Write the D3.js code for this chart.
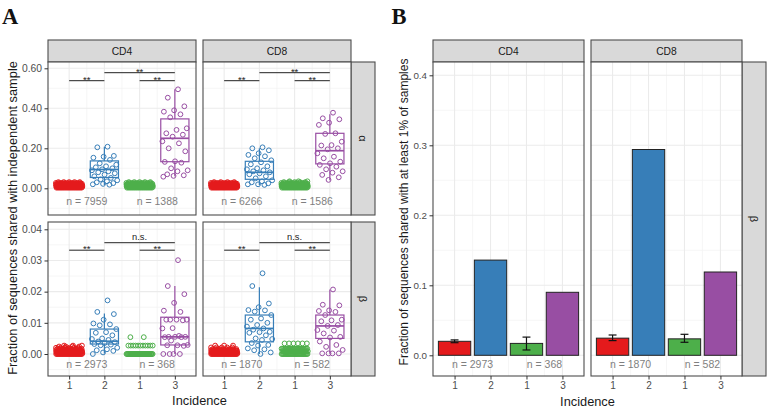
<!DOCTYPE html>
<html><head><meta charset="utf-8">
<script src="https://cdn.jsdelivr.net/npm/d3@7/dist/d3.min.js"></script>
<style>body{margin:0;background:#fff}svg{display:block}</style>
</head><body><svg id="c" width="773" height="415"></svg>
<script>
// ---------------- DATA ----------------
const cellTypes = ["CD4", "CD8"];
const chains = ["α", "β"];
const incidenceLabels = ["1", "2", "1", "3"];
const groupColors = ["#E41A1C", "#377EB8", "#4DAF4A", "#984EA3"];

const alphaTicks = [0, 0.2, 0.4, 0.6];
const betaTicks = [0, 0.01, 0.02, 0.03, 0.04];
const barTicks = [0, 0.1, 0.2, 0.3, 0.4];

// Panel A, alpha chain, CD4  (dense groups given as value levels with counts)
const alphaCD4RedLevels = [0.003, 0.007, 0.011, 0.015, 0.019, 0.023, 0.027, 0.031];
const alphaCD4RedCounts = [15, 20, 24, 24, 20, 15, 9, 5];
const alphaCD4Blue = [0.208, 0.205, 0.162, 0.158, 0.153, 0.142, 0.125, 0.118, 0.110, 0.105, 0.100, 0.095, 0.090, 0.085, 0.080, 0.075, 0.068, 0.060, 0.052, 0.045, 0.040, 0.035, 0.030, 0.026, 0.022, 0.020, 0.018];
const alphaCD4GreenLevels = [0.003, 0.007, 0.011, 0.015, 0.019, 0.023, 0.027, 0.031];
const alphaCD4GreenCounts = [14, 19, 23, 23, 19, 14, 9, 5];
const alphaCD4Purple = [0.495, 0.453, 0.410, 0.390, 0.383, 0.370, 0.355, 0.300, 0.292, 0.275, 0.268, 0.258, 0.235, 0.225, 0.200, 0.185, 0.135, 0.132, 0.128, 0.100, 0.090, 0.085, 0.070, 0.065, 0.062, 0.058];
const alphaCD4BoxBlue = [0.017, 0.054, 0.094, 0.137, 0.208];   // lo, q1, median, q3, hi
const alphaCD4BoxPurple = [0.060, 0.133, 0.250, 0.347, 0.495];
const alphaCD4N = ["n = 7959", "n = 1388"];

// Panel A, alpha chain, CD8
const alphaCD8RedLevels = [0.003, 0.007, 0.011, 0.015, 0.019, 0.023, 0.027, 0.031];
const alphaCD8RedCounts = [15, 20, 24, 24, 20, 15, 9, 4];
const alphaCD8Blue = [0.205, 0.200, 0.190, 0.175, 0.167, 0.160, 0.150, 0.140, 0.130, 0.120, 0.110, 0.100, 0.095, 0.090, 0.085, 0.080, 0.075, 0.070, 0.060, 0.050, 0.040, 0.035, 0.030, 0.025, 0.020, 0.020, 0.017];
const alphaCD8GreenLevels = [0.003, 0.007, 0.011, 0.015, 0.019, 0.023, 0.027, 0.031, 0.035];
const alphaCD8GreenCounts = [14, 19, 23, 23, 19, 14, 9, 5, 3];
const alphaCD8Purple = [0.378, 0.350, 0.345, 0.328, 0.317, 0.275, 0.272, 0.233, 0.216, 0.214, 0.200, 0.195, 0.175, 0.158, 0.150, 0.133, 0.125, 0.117, 0.108, 0.095, 0.085, 0.078, 0.067, 0.055, 0.042];
const alphaCD8BoxBlue = [0.016, 0.045, 0.080, 0.135, 0.200];
const alphaCD8BoxPurple = [0.040, 0.122, 0.188, 0.275, 0.370];
const alphaCD8N = ["n = 6266", "n = 1586"];

// Panel A, beta chain, CD4
const betaCD4RedLevels = [0, 0.0003, 0.0007, 0.0010, 0.0013, 0.0017, 0.0020, 0.0024, 0.0027];
const betaCD4RedCounts = [26, 22, 20, 17, 14, 10, 6, 4, 3];
const betaCD4Blue = [0.0172, 0.0135, 0.0128, 0.0110, 0.0098, 0.0095, 0.0092, 0.0080, 0.0070, 0.0068, 0.0060, 0.0050, 0.0048, 0.0045, 0.0040, 0.0038, 0.0035, 0.0032, 0.0030, 0.0028, 0.0020, 0.0015, 0.0012, 0.0010, 0.0005, 0.0000];
const betaCD4GreenLevels = [0, 0.0027, 0.0054];
const betaCD4GreenCounts = [40, 11, 2];
const betaCD4Purple = [0.0301, 0.0218, 0.0192, 0.0164, 0.0139, 0.0135, 0.0110, 0.0110, 0.0110, 0.0110, 0.0108, 0.0083, 0.0082, 0.0058, 0.0055, 0.0055, 0.0055, 0.0054, 0.0054, 0.0043, 0.0029, 0.0028, 0.0028, 0.0026, 0.0000, 0.0000, 0.0000, 0.0000];
const betaCD4BoxBlue = [0.0002, 0.0032, 0.0041, 0.0080, 0.0130];
const betaCD4BoxPurple = [0.0000, 0.0029, 0.0055, 0.0118, 0.0218];
const betaCD4N = ["n = 2973", "n = 368"];

// Panel A, beta chain, CD8
const betaCD8RedLevels = [0, 0.0003, 0.0006, 0.0010, 0.0013, 0.0016, 0.0021, 0.0027];
const betaCD8RedCounts = [26, 22, 20, 16, 12, 8, 5, 3];
const betaCD8Blue = [0.0259, 0.0218, 0.0162, 0.0150, 0.0141, 0.0140, 0.0136, 0.0125, 0.0114, 0.0110, 0.0100, 0.0093, 0.0088, 0.0082, 0.0078, 0.0071, 0.0070, 0.0068, 0.0060, 0.0050, 0.0048, 0.0045, 0.0035, 0.0029, 0.0027, 0.0018, 0.0015, 0.0012, 0.0005, 0.0000];
const betaCD8GreenLevels = [0, 0.0009, 0.0017, 0.0034];
const betaCD8GreenCounts = [30, 20, 24, 6];
const betaCD8Purple = [0.0207, 0.0158, 0.0156, 0.0140, 0.0138, 0.0135, 0.0125, 0.0110, 0.0108, 0.0105, 0.0093, 0.0090, 0.0077, 0.0075, 0.0066, 0.0055, 0.0053, 0.0040, 0.0029, 0.0023, 0.0013, 0.0002, 0.0002, 0.0002, 0.0002];
const betaCD8BoxBlue = [0.0000, 0.0039, 0.0082, 0.0125, 0.0214];
const betaCD8BoxPurple = [0.0002, 0.0050, 0.0090, 0.0125, 0.0207];
const betaCD8N = ["n = 1870", "n = 582"];

// significance brackets: [from category, to category, height, label]
const alphaBrackets = [[1, 2, 0.538, "**"], [2, 4, 0.578, "**"], [3, 4, 0.538, "**"]];
const betaBrackets = [[1, 2, 0.0333, "**"], [2, 4, 0.0357, "n.s."], [3, 4, 0.0333, "**"]];

// Panel B bars (beta chain)
const barCD4 = [0.020, 0.136, 0.017, 0.090];
const barCD8 = [0.0245, 0.294, 0.0235, 0.119];
const errLoCD4 = [0.018, null, 0.0076, null];
const errHiCD4 = [0.022, null, 0.026, null];
const errLoCD8 = [0.021, null, 0.0186, null];
const errHiCD8 = [0.029, null, 0.030, null];
const barN_CD4 = ["n = 2973", "n = 368"];
const barN_CD8 = ["n = 1870", "n = 582"];

// ---------------- DRAWING ----------------
const FONT = '"Liberation Sans", Arial, Helvetica, sans-serif';
const svg = d3.select("#c");
const BORDER = "#4d4d4d";
const X_DOMAIN = [0.4, 4.6];

function jit(i) { return (((i + 1) * 0.6180339887) % 1 - 0.5) * 0.76; }

function panelBase(xs, ys, x0, x1, y0, y1, majors) {
  const g = svg.append("g");
  g.append("rect").attr("x", x0).attr("y", y0).attr("width", x1 - x0).attr("height", y1 - y0).attr("fill", "#fff");
  const step = majors[1] - majors[0];
  const minors = [];
  for (let i = -1; i < majors.length; i++) {
    const v = majors[0] + step * (i + 0.5);
    const p = ys(v);
    if (p > y0 && p < y1) minors.push(v);
  }
  g.selectAll("line.hmin").data(minors).join("line")
    .attr("x1", x0).attr("x2", x1).attr("y1", d => ys(d)).attr("y2", d => ys(d))
    .attr("stroke", "#F2F2F2").attr("stroke-width", 0.7);
  g.selectAll("line.vmin").data([1.5, 2.5, 3.5]).join("line")
    .attr("y1", y0).attr("y2", y1).attr("x1", d => xs(d)).attr("x2", d => xs(d))
    .attr("stroke", "#F2F2F2").attr("stroke-width", 0.7);
  g.selectAll("line.hmaj").data(majors).join("line")
    .attr("x1", x0).attr("x2", x1).attr("y1", d => ys(d)).attr("y2", d => ys(d))
    .attr("stroke", "#EBEBEB").attr("stroke-width", 1.1);
  g.selectAll("line.vmaj").data([1, 2, 3, 4]).join("line")
    .attr("y1", y0).attr("y2", y1).attr("x1", d => xs(d)).attr("x2", d => xs(d))
    .attr("stroke", "#EBEBEB").attr("stroke-width", 1.1);
  return g;
}
function panelBorder(x0, x1, y0, y1) {
  svg.append("rect").attr("x", x0).attr("y", y0).attr("width", x1 - x0).attr("height", y1 - y0)
    .attr("fill", "none").attr("stroke", BORDER).attr("stroke-width", 1.1);
}
function stripTop(x0, x1, y0, y1, label) {
  svg.append("rect").attr("x", x0).attr("y", y0).attr("width", x1 - x0).attr("height", y1 - y0)
    .attr("fill", "#D9D9D9").attr("stroke", BORDER).attr("stroke-width", 1.1);
  svg.append("text").attr("x", (x0 + x1) / 2).attr("y", (y0 + y1) / 2).attr("dy", "0.35em")
    .attr("text-anchor", "middle").attr("font-family", FONT).attr("font-size", 10.3).attr("fill", "#1A1A1A").text(label);
}
function stripRight(x0, x1, y0, y1, label) {
  svg.append("rect").attr("x", x0).attr("y", y0).attr("width", x1 - x0).attr("height", y1 - y0)
    .attr("fill", "#D9D9D9").attr("stroke", BORDER).attr("stroke-width", 1.1);
  const cx = (x0 + x1) / 2, cy = (y0 + y1) / 2;
  svg.append("text").attr("transform", `translate(${cx},${cy}) rotate(90)`).attr("dy", "0.35em")
    .attr("text-anchor", "middle").attr("font-family", FONT).attr("font-size", 11).attr("fill", "#1A1A1A").text(label);
}
function axisLeft(x, ys, ticks, fmt, fs) {
  const g = svg.append("g").attr("transform", `translate(${x},0)`)
    .call(d3.axisLeft(ys).tickValues(ticks).tickFormat(d3.format(fmt)).tickSizeInner(3.5).tickSizeOuter(0).tickPadding(2.5));
  g.attr("font-family", FONT).attr("font-size", fs);
  g.select(".domain").remove();
  g.selectAll(".tick line").attr("stroke", "#333").attr("stroke-width", 1);
  g.selectAll(".tick text").attr("fill", "#4D4D4D");
}
function axisBottom(y, xs, fs) {
  const g = svg.append("g").attr("transform", `translate(0,${y})`)
    .call(d3.axisBottom(xs).tickValues([1, 2, 3, 4]).tickFormat((d, i) => incidenceLabels[i]).tickSizeInner(3.5).tickSizeOuter(0).tickPadding(2.5));
  g.attr("font-family", FONT).attr("font-size", fs);
  g.select(".domain").remove();
  g.selectAll(".tick line").attr("stroke", "#333").attr("stroke-width", 1);
  g.selectAll(".tick text").attr("fill", "#4D4D4D");
}

function expandLevels(levels, counts) {
  const pts = [];
  levels.forEach((v, k) => {
    const c = counts[k];
    const shift = (((k + 1) * 0.437) % 1 - 0.5) * (0.76 / c);
    for (let j = 0; j < c; j++) pts.push({ v, dx: ((j + 0.5) / c - 0.5) * 0.76 + shift });
  });
  return pts;
}
function valuesPts(vals) { return vals.map((v, i) => ({ v, dx: jit(i) })); }

function drawPoints(g, xs, ys, cat, pts, color) {
  g.append("g").selectAll("circle").data(pts).join("circle")
    .attr("cx", d => xs(cat + d.dx)).attr("cy", d => ys(d.v)).attr("r", 2.4)
    .attr("fill", "none").attr("stroke", color).attr("stroke-width", 1);
}
function drawBox(g, xs, ys, cat, b, color) {
  const [lo, q1, med, q3, hi] = b;
  const bg = g.append("g").attr("stroke", color).attr("fill", "none");
  bg.append("line").attr("x1", xs(cat)).attr("x2", xs(cat)).attr("y1", ys(hi)).attr("y2", ys(q3)).attr("stroke-width", 1.2);
  bg.append("line").attr("x1", xs(cat)).attr("x2", xs(cat)).attr("y1", ys(q1)).attr("y2", ys(lo)).attr("stroke-width", 1.2);
  bg.append("rect").attr("x", xs(cat - 0.4)).attr("width", xs(cat + 0.4) - xs(cat - 0.4))
    .attr("y", ys(q3)).attr("height", ys(q1) - ys(q3)).attr("stroke-width", 1.2);
  bg.append("line").attr("x1", xs(cat - 0.4)).attr("x2", xs(cat + 0.4)).attr("y1", ys(med)).attr("y2", ys(med)).attr("stroke-width", 1.7);
}
function drawBrackets(g, xs, ys, brackets) {
  brackets.forEach(([a, b, h, lab]) => {
    g.append("line").attr("x1", xs(a)).attr("x2", xs(b)).attr("y1", ys(h)).attr("y2", ys(h))
      .attr("stroke", "#222").attr("stroke-width", 1);
    const star = lab === "**";
    g.append("text").attr("x", (xs(a) + xs(b)) / 2).attr("y", ys(h) + (star ? 2.2 : -2.6))
      .attr("text-anchor", "middle").attr("font-family", FONT).attr("font-size", star ? 9.5 : 9.3)
      .attr("fill", "#222").text(lab);
  });
}
function drawNLabels(g, xs, ys, yv, labels) {
  [1.5, 3.5].forEach((c, i) => {
    g.append("text").attr("x", xs(c)).attr("y", ys(yv)).attr("dy", "0.35em").attr("text-anchor", "middle")
      .attr("font-family", FONT).attr("font-size", 10.5).attr("fill", "#7F7F7F").text(labels[i]);
  });
}

// ---- Panel A ----
const aCols = [[48, 196], [203, 351]];
const aRows = [[62, 215], [222, 376]];
const aY = [
  d3.scaleLinear().domain([0, 0.6]).range([188.3, 68.3]),
  d3.scaleLinear().domain([0, 0.04]).range([354, 229.3])
];
const aTicks = [alphaTicks, betaTicks];
const aFmt = [".2f", ".2f"];
const aBrackets = [alphaBrackets, betaBrackets];
const aNy = [-0.0635, -0.0032];
const panelsA = [
  [
    { red: [alphaCD4RedLevels, alphaCD4RedCounts], blue: alphaCD4Blue, green: [alphaCD4GreenLevels, alphaCD4GreenCounts], purple: alphaCD4Purple, bb: alphaCD4BoxBlue, bp: alphaCD4BoxPurple, n: alphaCD4N },
    { red: [alphaCD8RedLevels, alphaCD8RedCounts], blue: alphaCD8Blue, green: [alphaCD8GreenLevels, alphaCD8GreenCounts], purple: alphaCD8Purple, bb: alphaCD8BoxBlue, bp: alphaCD8BoxPurple, n: alphaCD8N }
  ],
  [
    { red: [betaCD4RedLevels, betaCD4RedCounts], blue: betaCD4Blue, green: [betaCD4GreenLevels, betaCD4GreenCounts], purple: betaCD4Purple, bb: betaCD4BoxBlue, bp: betaCD4BoxPurple, n: betaCD4N },
    { red: [betaCD8RedLevels, betaCD8RedCounts], blue: betaCD8Blue, green: [betaCD8GreenLevels, betaCD8GreenCounts], purple: betaCD8Purple, bb: betaCD8BoxBlue, bp: betaCD8BoxPurple, n: betaCD8N }
  ]
];

cellTypes.forEach((ct, c) => stripTop(aCols[c][0], aCols[c][1], 40, 62, ct));
chains.forEach((ch, r) => stripRight(351, 375, aRows[r][0], aRows[r][1], ch));

aRows.forEach(([y0, y1], r) => {
  const ys = aY[r];
  aCols.forEach(([x0, x1], c) => {
    const xs = d3.scaleLinear().domain(X_DOMAIN).range([x0, x1]);
    const g = panelBase(xs, ys, x0, x1, y0, y1, aTicks[r]);
    const p = panelsA[r][c];
    drawBox(g, xs, ys, 2, p.bb, groupColors[1]);
    drawBox(g, xs, ys, 4, p.bp, groupColors[3]);
    drawPoints(g, xs, ys, 1, expandLevels(p.red[0], p.red[1]), groupColors[0]);
    drawPoints(g, xs, ys, 2, valuesPts(p.blue), groupColors[1]);
    drawPoints(g, xs, ys, 3, expandLevels(p.green[0], p.green[1]), groupColors[2]);
    drawPoints(g, xs, ys, 4, valuesPts(p.purple), groupColors[3]);
    drawBrackets(g, xs, ys, aBrackets[r]);
    drawNLabels(g, xs, ys, aNy[r], p.n);
    panelBorder(x0, x1, y0, y1);
    if (c === 0) axisLeft(x0, ys, aTicks[r], aFmt[r], 10.3);
    if (r === 1) axisBottom(y1, xs, 10.3);
  });
});

svg.append("text").attr("transform", "translate(12.5,218) rotate(-90)").attr("dy", "0.35em")
  .attr("text-anchor", "middle").attr("font-family", FONT).attr("font-size", 12.8).attr("fill", "#1A1A1A")
  .text("Fraction of sequences shared with independent sample");
svg.append("text").attr("x", 199.5).attr("y", 401).attr("dy", "0.35em").attr("text-anchor", "middle")
  .attr("font-family", FONT).attr("font-size", 12.8).attr("fill", "#1A1A1A").text("Incidence");

// ---- Panel B ----
const bCols = [[433, 584], [591, 742]];
const bY0 = 62, bY1 = 376;
const bY = d3.scaleLinear().domain([0, 0.4]).range([355.3, 75.3]);
const barTable = [
  { vals: barCD4, lo: errLoCD4, hi: errHiCD4, n: barN_CD4 },
  { vals: barCD8, lo: errLoCD8, hi: errHiCD8, n: barN_CD8 }
];
cellTypes.forEach((ct, c) => stripTop(bCols[c][0], bCols[c][1], 40, 62, ct));
stripRight(742, 766, bY0, bY1, chains[1]);
bCols.forEach(([x0, x1], c) => {
  const xs = d3.scaleLinear().domain(X_DOMAIN).range([x0, x1]);
  const g = panelBase(xs, bY, x0, x1, bY0, bY1, barTicks);
  const t = barTable[c];
  g.selectAll("rect.bar").data(t.vals).join("rect")
    .attr("x", (d, i) => xs(i + 1 - 0.45)).attr("width", (d, i) => xs(i + 1 + 0.45) - xs(i + 1 - 0.45))
    .attr("y", d => bY(d)).attr("height", d => bY(0) - bY(d))
    .attr("fill", (d, i) => groupColors[i]).attr("stroke", "#222").attr("stroke-width", 1);
  t.vals.forEach((d, i) => {
    if (t.lo[i] == null) return;
    const cx = i + 1;
    const eg = g.append("g").attr("stroke", "#111").attr("stroke-width", 1.2);
    eg.append("line").attr("x1", xs(cx)).attr("x2", xs(cx)).attr("y1", bY(t.lo[i])).attr("y2", bY(t.hi[i]));
    [t.lo[i], t.hi[i]].forEach(v => eg.append("line").attr("x1", xs(cx - 0.11)).attr("x2", xs(cx + 0.11)).attr("y1", bY(v)).attr("y2", bY(v)));
  });
  drawNLabels(g, xs, bY, -0.0128, t.n);
  panelBorder(x0, x1, bY0, bY1);
  if (c === 0) axisLeft(x0, bY, barTicks, ".1f", 9.8);
  axisBottom(bY1, xs, 10);
});
svg.append("text").attr("transform", "translate(404,212) rotate(-90)").attr("dy", "0.35em")
  .attr("text-anchor", "middle").attr("font-family", FONT).attr("font-size", 12).attr("fill", "#1A1A1A")
  .text("Fraction of sequences shared with at least 1% of samples");
svg.append("text").attr("x", 587.5).attr("y", 401.5).attr("dy", "0.35em").attr("text-anchor", "middle")
  .attr("font-family", FONT).attr("font-size", 12.8).attr("fill", "#1A1A1A").text("Incidence");

// Panel letters
svg.append("text").attr("x", 2).attr("y", 23.5).attr("font-family", '"Liberation Serif", "DejaVu Serif", serif')
  .attr("font-weight", "bold").attr("font-size", 22.5).attr("fill", "#111").text("A");
svg.append("text").attr("x", 391.5).attr("y", 23.5).attr("font-family", '"Liberation Serif", "DejaVu Serif", serif')
  .attr("font-weight", "bold").attr("font-size", 22.5).attr("fill", "#111").text("B");
</script></body></html>
